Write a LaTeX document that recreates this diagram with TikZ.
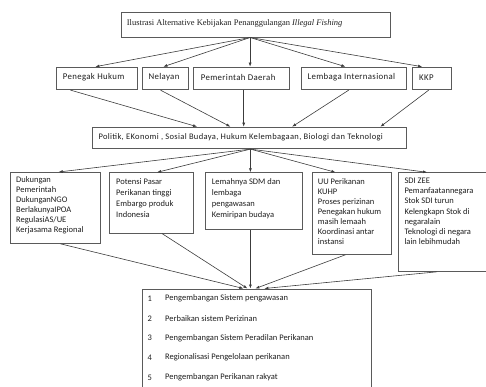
\documentclass[tikz,border=0pt]{standalone}
\usepackage{fontspec}
\setmainfont{Liberation Serif}
\newfontfamily\calfont{Carlito}
\newfontfamily\calwide{Carlito}[LetterSpace=4]
\usetikzlibrary{arrows.meta}
\definecolor{linec}{HTML}{3C3C3C}
\definecolor{boxc}{HTML}{5A5A5A}
\definecolor{txtc}{HTML}{1E1E1E}
\begin{document}
\begin{tikzpicture}[x=1pt,y=-1pt,
  box/.style={draw=boxc,line width=0.8pt,rectangle,inner sep=0pt,anchor=north west},
  lbl/.style={inner sep=0pt,anchor=west,text=txtc,font=\calfont\fontsize{8.5}{10}\selectfont},
  wlbl/.style={inner sep=0pt,anchor=west,text=txtc,font=\calwide\fontsize{8.8}{10}\selectfont},
  para/.style={inner sep=0pt,anchor=north west,align=left,text=txtc,font=\calfont\fontsize{8.5}{10}\selectfont},
  arr/.style={draw=linec,line width=0.6pt,-{Latex[length=4pt,width=3pt]}}]
\clip (0,0) rectangle (486,387);
% boxes
\node[box,minimum width=269.3pt,minimum height=24.2pt] (top) at (120.7,12.5) {};
\node[box,minimum width=81pt,minimum height=22.6pt] (ph) at (55.7,66.7) {};
\node[box,minimum width=46pt,minimum height=22.6pt] (nel) at (141.7,66.7) {};
\node[box,minimum width=96pt,minimum height=22.6pt] (pd) at (193.3,66.7) {};
\node[box,minimum width=105.3pt,minimum height=22.6pt] (li) at (300.7,66.7) {};
\node[box,minimum width=38.7pt,minimum height=22.6pt] (kkp) at (412,66.7) {};
\node[box,minimum width=314.3pt,minimum height=21.6pt] (pol) at (91.7,126.7) {};
\node[box,minimum width=90pt,minimum height=71pt] (b1) at (10,172) {};
\node[box,minimum width=84.8pt,minimum height=60.5pt] (b2) at (108.5,172.3) {};
\node[box,minimum width=96.7pt,minimum height=56.7pt] (b3) at (205,172.3) {};
\node[box,minimum width=78.8pt,minimum height=81.7pt] (b4) at (311.7,172.3) {};
\node[box,minimum width=92pt,minimum height=98.7pt] (b5) at (398.3,172.3) {};
\node[box,minimum width=229pt,minimum height=98pt] (bot) at (141.7,288.5) {};
% texts
\node[inner sep=0pt,anchor=west,text=txtc,font=\fontsize{8.5}{10}\selectfont] (ttop) at (126.7,23.5)
  {Ilustrasi Alternative Kebijakan Penanggulangan \textit{Illegal Fishing}};
\node[wlbl] (tph) at (62.7,77.5) {Penegak Hukum};
\node[wlbl] (tnel) at (148.3,77.5) {Nelayan};
\node[wlbl] (tpd) at (200.7,77.5) {Pemerintah Daerah};
\node[wlbl] (tli) at (307.3,77.5) {Lembaga Internasional};
\node[wlbl] (tkkp) at (419,77.5) {KKP};
\node[wlbl,font=\calwide\fontsize{8.5}{10}\selectfont] (tpol) at (98.3,137) {Politik, EKonomi , Sosial Budaya, Hukum Kelembagaan, Biologi dan Teknologi};
\node[para] (tb1) at (16,176.3) {Dukungan\\Pemerintah\\DukunganNGO\\BerlakunyaIPOA\\RegulasiAS/UE\\Kerjasama Regional};
\node[para,font=\calfont\fontsize{8.5}{11.2}\selectfont] (tb2) at (116,178) {Potensi Pasar\\Perikanan tinggi\\Embargo produk\\Indonesia};
\node[para,font=\calfont\fontsize{8.5}{11.2}\selectfont] (tb3) at (211.7,178) {Lemahnya SDM dan\\lembaga\\pengawasan\\Kemiripan budaya};
\node[para,font=\calfont\fontsize{8.5}{10.1}\selectfont] (tb4) at (317.7,178) {UU Perikanan\\KUHP\\Proses perizinan\\Penegakan hukum\\masih lemaah\\Koordinasi antar\\instansi};
\node[para,font=\calfont\fontsize{8.5}{10.1}\selectfont] (tb5) at (404.3,178) {SDI ZEE\\Pemanfaatannegara\\Stok SDI turun\\Kelengkapn Stok di\\negaralain\\Teknologi di negara\\lain lebihmudah};
\node[lbl] (n1) at (147.5,298.3) {1};
\node[lbl] (i1) at (165,298.3) {Pengembangan Sistem pengawasan};
\node[lbl] (n2) at (147.5,318.3) {2};
\node[lbl] (i2) at (165,318.3) {Perbaikan sistem Perizinan};
\node[lbl] (n3) at (147.5,337.8) {3};
\node[lbl] (i3) at (165,337.8) {Pengembangan Sistem Peradilan Perikanan};
\node[lbl] (n4) at (147.5,357.7) {4};
\node[lbl] (i4) at (165,357.7) {Regionalisasi Pengelolaan perikanan};
\node[lbl] (n5) at (147.5,377.3) {5};
\node[lbl] (i5) at (165,377.3) {Pengembangan Perikanan rakyat};
% arrows top -> level 2
\coordinate (hubA) at ([xshift=-5.65pt]top.south);
\draw[arr] (hubA) -- ([xshift=-1.2pt]ph.north);
\draw[arr] (hubA) -- ([xshift=-1.7pt]nel.north);
\draw[arr] (hubA) -- (hubA |- pd.north);
\draw[arr] (hubA) -- ([xshift=-8.35pt]li.north);
\draw[arr] (hubA) -- ([xshift=-9.65pt]kkp.north);
% level 2 -> politik
\draw[arr] ([xshift=-26.2pt]ph.south) -- ([xshift=-52.15pt]pol.north);
\draw[arr] ([xshift=-4.7pt]nel.south) -- ([xshift=-18.85pt]pol.north);
\draw[arr] ([xshift=2pt]pd.south) -- ([xshift=2pt]pd.south |- pol.north);
\draw[arr] ([xshift=-5pt]li.south) -- ([xshift=42.85pt]pol.north);
\draw[arr] ([xshift=-3pt]kkp.south) -- ([xshift=131.15pt]pol.north);
% politik -> level 3
\coordinate (hubB) at ([xshift=1.15pt]pol.south);
\draw[arr] (hubB) -- ([xshift=3.3pt]b1.north);
\draw[arr] (hubB) -- ([xshift=5.8pt]b2.north);
\draw[arr] (hubB) -- (hubB |- b3.north);
\draw[arr] (hubB) -- ([xshift=-16.1pt]b4.north);
\draw[arr] (hubB) -- ([xshift=-17.6pt]b5.north);
% level 3 -> bottom
\draw[arr] ([xshift=5pt]b1.south) -- ([xshift=-13.2pt]bot.north);
\draw[arr] ([xshift=10.8pt]b2.south) -- ([xshift=-9.2pt]bot.north);
\draw[arr] ([xshift=-3.35pt]b3.south) -- ([xshift=-3.35pt]b3.south |- bot.north);
\draw[arr] ([xshift=-6.1pt]b4.south) -- ([xshift=-1.2pt]bot.north);
\draw[arr] ([xshift=-7.6pt]b5.south) -- ([xshift=7.8pt]bot.north);
\end{tikzpicture}
\end{document}
